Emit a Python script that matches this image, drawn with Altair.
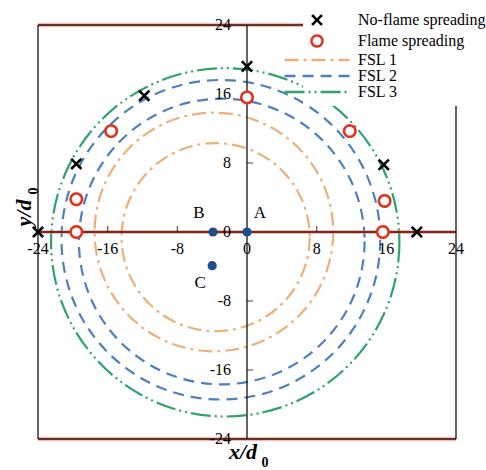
import altair as alt
import pandas as pd

W, H = 418, 414

# Test positions in units of d0
noflame_x = [-24.0, 19.5, 0.0, -11.8, -19.6, 15.7]
noflame_y = [0.0, 0.0, 19.2, 15.8, 7.9, 7.8]
flame_x = [0.0, -19.6, 15.6, -15.6, 11.8, -19.6, 15.8]
flame_y = [15.6, 0.0, 0.0, 11.7, 11.7, 3.8, 3.6]

# Flame-spreading-limit rings: series, centre and radius
ring_series = ["FSL 1", "FSL 1", "FSL 2", "FSL 2", "FSL 3"]
ring_cx = [-3.6, -3.8, -2.9, -3.0, -2.5]
ring_cy = [-0.6, 0.0, -1.1, -0.9, -1.2]
ring_r = [10.8, 13.7, 16.4, 18.3, 20.0]

# Reference sites
site_names = ["A", "B", "C"]
site_x = [0.0, -3.9, -4.0]
site_y = [0.0, 0.0, -3.9]

tick_values = [-24, -16, -8, 0, 8, 16, 24]
inner_ticks = [-16, -8, 8, 16]

series_names = ["No-flame spreading", "Flame spreading", "FSL 1", "FSL 2", "FSL 3"]
series_colors = ["#000000", "#E0321E", "#EDB07A", "#4F7FBF", "#2FA36B"]

X_PATH = "M-0.9,-0.9L0.9,0.9M-0.9,0.9L0.9,-0.9"
LINE_PATH = "M-5.9,0L5.9,0"
series_shapes = [X_PATH, "circle", LINE_PATH, LINE_PATH, LINE_PATH]
series_dash = [[1, 0], [1, 0], [14, 5, 3, 5], [11, 7], [20, 4, 2, 4, 2, 4]]

SERIF = "Liberation Serif"
lo, hi = tick_values[0], tick_values[-1]

points_df = pd.DataFrame({
    "x": noflame_x + flame_x,
    "y": noflame_y + flame_y,
    "series": [series_names[0]] * len(noflame_x) + [series_names[1]] * len(flame_x),
})
ring_df = pd.DataFrame({"series": ring_series, "cx": ring_cx, "cy": ring_cy, "r": ring_r})
site_df = pd.DataFrame({"name": site_names, "x": site_x, "y": site_y})

xs = alt.Scale(domain=[lo, hi], nice=False, zero=False)
ys = alt.Scale(domain=[lo, hi], nice=False, zero=False)

legend = alt.Legend(
    title=None, orient="none", legendX=265, legendY=-19, fillColor="white",
    padding=6, labelFont=SERIF, labelFontSize=16, labelColor="black",
    labelOffset=33, rowPadding=0, symbolStrokeWidth=2.5, symbolSize=121,
    labelLimit=300,
)
color = alt.Color("series:N", scale=alt.Scale(domain=series_names, range=series_colors), legend=legend)
shape = alt.Shape("series:N", scale=alt.Scale(domain=series_names, range=series_shapes), legend=legend)
dash = alt.StrokeDash("series:N", scale=alt.Scale(domain=series_names, range=series_dash), legend=legend)

X = lambda f: alt.X(f, scale=xs, axis=None)
Y = lambda f: alt.Y(f, scale=ys, axis=None)

# Flame spreading limit rings: circle symbols whose diameter follows the x scale
ring_size = alt.Scale(type="pow", exponent=2, domain=[0, hi - lo], range=[0, (2 * W) ** 2])
rings = alt.Chart(ring_df).mark_point(shape="circle", filled=False, strokeWidth=2.2, opacity=1).encode(
    x=X("cx:Q"), y=Y("cy:Q"),
    size=alt.Size("r:Q", scale=ring_size, legend=None),
    color=color, strokeDash=dash,
)

# Frame and axis lines through the origin
hlines = pd.DataFrame({"y": [lo, 0, hi], "x1": [lo] * 3, "x2": [hi] * 3})
vlines = pd.DataFrame({"x": [lo, 0, hi], "y1": [lo] * 3, "y2": [hi] * 3})
h_glow = alt.Chart(hlines).mark_rule(color="#F08A7A", strokeWidth=3.5, opacity=0.8).encode(
    x=X("x1:Q"), x2="x2:Q", y=Y("y:Q"))
h_core = alt.Chart(hlines).mark_rule(color="#3B0A05", strokeWidth=1.3).encode(
    x=X("x1:Q"), x2="x2:Q", y=Y("y:Q"))
v_core = alt.Chart(vlines).mark_rule(color="#111111", strokeWidth=1.3).encode(
    x=X("x:Q"), y=Y("y1:Q"), y2="y2:Q")

tick_df = pd.DataFrame({"v": inner_ticks, "zero": [0] * len(inner_ticks)})
x_ticks = alt.Chart(tick_df).mark_tick(orient="vertical", size=6, thickness=1.2,
                                       yOffset=-3, color="#3B0A05").encode(x=X("v:Q"), y=Y("zero:Q"))
y_ticks = alt.Chart(tick_df).mark_tick(orient="horizontal", size=6, thickness=1.2,
                                       xOffset=3, color="#3B0A05").encode(x=X("zero:Q"), y=Y("v:Q"))

lab_df = pd.DataFrame({"v": tick_values, "zero": [0] * len(tick_values),
                       "t": [str(v) for v in tick_values]})
x_labels = alt.Chart(lab_df).mark_text(font=SERIF, fontSize=16, baseline="top", dy=9,
                                       align="center", color="black").encode(
    x=X("v:Q"), y=Y("zero:Q"), text="t:N")
y_labels = alt.Chart(lab_df).mark_text(font=SERIF, fontSize=16, baseline="middle", dx=-16,
                                       align="right", color="black").encode(
    x=X("zero:Q"), y=Y("v:Q"), text="t:N")

# Test points
points = alt.Chart(points_df).mark_point(filled=False, fill="white", strokeWidth=2.6,
                                         opacity=1, size=130).encode(
    x=X("x:Q"), y=Y("y:Q"), color=color, shape=shape, strokeDash=dash,
)

sites = alt.Chart(site_df).mark_circle(size=85, color="#1F4E8C", opacity=1).encode(x=X("x:Q"), y=Y("y:Q"))
site_label_offsets = {"A": (13, -19), "B": (-14, -19), "C": (-12, 17)}
site_labels = [
    alt.Chart(site_df).transform_filter(alt.datum.name == n).mark_text(
        font=SERIF, fontSize=17, dx=dx, dy=dy, color="black", baseline="middle", align="center"
    ).encode(x=X("x:Q"), y=Y("y:Q"), text="name:N")
    for n, (dx, dy) in site_label_offsets.items()
]

# Axis titles with subscripts
title_base = alt.Chart(pd.DataFrame({"a": [0]}))
x_title = title_base.mark_text(text="x/d", font=SERIF, fontSize=22, fontWeight="bold", fontStyle="italic",
                               align="center", baseline="alphabetic").encode(x=alt.value(205), y=alt.value(434))
x_sub = title_base.mark_text(text="0", font=SERIF, fontSize=14, fontWeight="bold",
                             align="center", baseline="alphabetic").encode(x=alt.value(227), y=alt.value(442))
y_title = title_base.mark_text(text="y/d", font=SERIF, fontSize=22, fontWeight="bold", fontStyle="italic",
                               align="center", baseline="alphabetic", angle=270).encode(x=alt.value(-7), y=alt.value(188))
y_sub = title_base.mark_text(text="0", font=SERIF, fontSize=14, fontWeight="bold",
                             align="center", baseline="alphabetic", angle=270).encode(x=alt.value(0), y=alt.value(166))

chart = alt.layer(
    rings, h_glow, h_core, v_core, x_ticks, y_ticks, x_labels, y_labels,
    points, sites, *site_labels, x_title, x_sub, y_title, y_sub,
).properties(
    width=W, height=H, autosize="none",
    padding={"left": 38, "top": 25, "right": 30, "bottom": 31},
    background="white",
).configure_view(stroke=None)

chart.save("out.html", embed_options={"renderer": "svg", "actions": False})
